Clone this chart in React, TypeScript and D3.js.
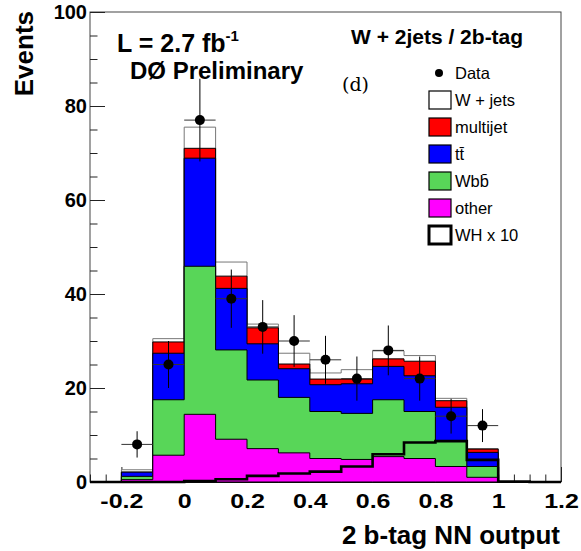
import React, { useRef, useEffect } from "react";
import * as d3 from "d3";

// bin lower edges (bin width 0.1)
const binLow = [-0.3, -0.2, -0.1, 0, 0.1, 0.2, 0.3, 0.4, 0.5, 0.6, 0.7, 0.8, 0.9, 1.0, 1.1];
const binWidth = 0.1;

// stacked backgrounds, per bin contributions (bottom to top)
const other = [0, 0.5, 5.7, 14.4, 9.1, 7.1, 6.2, 5.0, 4.8, 5.4, 5.0, 3.3, 1.0, 0, 0];
const wbb = [0, 0.7, 11.8, 31.5, 19.0, 14.6, 11.8, 10.0, 9.8, 12.1, 10.0, 5.4, 2.3, 0, 0];
const ttbar = [0, 0.9, 9.9, 23.0, 13.1, 7.7, 6.1, 5.7, 6.3, 7.1, 7.6, 7.2, 3.0, 0, 0];
const multijet = [0, 0, 2.4, 2.1, 2.6, 3.4, 1.0, 1.2, 1.0, 1.6, 3.1, 1.4, 0.7, 0, 0];
const wjets = [0, 0.5, 0.7, 4.5, 3.0, 0.8, 2.3, 1.3, 2.0, 1.7, 1.2, 0.5, 0.1, 0, 0];

// signal WH x 10
const whx10 = [0, 0, 0, 0.2, 0.6, 1.3, 1.8, 2.2, 3.3, 5.9, 8.4, 8.7, 4.7, 0.1, 0];

// data
const dataCounts = [0, 8, 25, 77, 39, 33, 30, 26, 22, 28, 22, 14, 12, 0, 0];
const dataErr = [0, 2.8, 5.0, 8.8, 6.2, 5.7, 5.5, 5.1, 4.7, 5.3, 4.7, 3.7, 3.5, 0, 0];

const xTicks = [-0.2, 0, 0.2, 0.4, 0.6, 0.8, 1, 1.2];
const yTicks = [0, 20, 40, 60, 80, 100];

const layerKeys = ["other", "wbb", "ttbar", "multijet", "wjets"];
const layerColors: Record<string, string> = {
  other: "#ff00ff",
  wbb: "#58d658",
  ttbar: "#0000ff",
  multijet: "#ff0000",
  wjets: "#ffffff",
};

const legendLabels = ["Data", "W + jets", "multijet", "tt\u0304", "Wbb\u0304", "other", "WH x 10"];
const legendFills = ["", "#ffffff", "#ff0000", "#0000ff", "#58d658", "#ff00ff", "#ffffff"];

const FONT = "'Liberation Sans', Arial, Helvetica, sans-serif";

const App = () => {
  const svgRef = useRef<SVGSVGElement>(null);

  useEffect(() => {
    const svg = d3.select(svgRef.current);
    svg.selectAll("*").remove();

    const left = 90, right = 561, top = 12, bottom = 482;
    const x = d3.scaleLinear().domain([-0.3, 1.2]).range([left, right]);
    const y = d3.scaleLinear().domain([0, 100]).range([bottom, top]);

    // frame
    svg.append("rect")
      .attr("x", left).attr("y", top)
      .attr("width", right - left).attr("height", bottom - top)
      .attr("fill", "none").attr("stroke", "#444").attr("stroke-width", 1);

    // y axis (ticks inward)
    const gyMinor = svg.append("g").attr("transform", `translate(${left},0)`)
      .call(d3.axisLeft(y).tickValues(y.ticks(20)).tickSize(-7.5).tickFormat(() => ""));
    gyMinor.select(".domain").remove();
    const gy = svg.append("g").attr("transform", `translate(${left},0)`)
      .call(d3.axisLeft(y).tickValues(yTicks).tickSize(-15).tickPadding(3).tickFormat((d) => String(d)));
    gy.select(".domain").remove();
    gy.selectAll("text")
      .attr("x", -3)
      .attr("font-family", FONT).attr("font-size", 20).attr("font-weight", "bold").attr("fill", "#000");
    svg.selectAll("g.tick line").attr("stroke", "#222");

    // x axis (ticks inward)
    const gxMinor = svg.append("g").attr("transform", `translate(0,${bottom})`)
      .call(d3.axisBottom(x).tickValues(x.ticks(30)).tickSize(-7.5).tickFormat(() => ""));
    gxMinor.select(".domain").remove();
    const gx = svg.append("g").attr("transform", `translate(0,${bottom})`)
      .call(d3.axisBottom(x).tickValues(xTicks).tickSize(-15).tickFormat((d) => String(d)));
    gx.select(".domain").remove();
    gx.selectAll("text")
      .attr("y", 26).attr("dy", 0)
      .attr("transform", "scale(1.25,1)")
      .attr("font-family", FONT).attr("font-size", 20).attr("font-weight", "bold").attr("fill", "#000");
    svg.selectAll("g.tick line").attr("stroke", "#222");

    // stacked histograms
    const rows = binLow.map((b, i) => ({
      other: other[i], wbb: wbb[i], ttbar: ttbar[i], multijet: multijet[i], wjets: wjets[i],
    }));
    const stacked = d3.stack<any>().keys(layerKeys)(rows);

    const stepArea = d3.area<{ x: number; v: number }>()
      .x((d) => x(d.x))
      .y0(y(0))
      .y1((d) => y(d.v))
      .curve(d3.curveStepAfter);

    const hist = svg.append("g");
    stacked.slice().reverse().forEach((layer) => {
      const pts = layer.map((d, i) => ({ x: binLow[i], v: d[1] }));
      pts.push({ x: binLow[binLow.length - 1] + binWidth, v: layer[layer.length - 1][1] });
      hist.append("path")
        .attr("d", stepArea(pts))
        .attr("fill", layerColors[layer.key])
        .attr("stroke", layer.key === "wjets" ? "#777" : "#000")
        .attr("stroke-width", 1);
    });

    // WH x 10
    const stepLine = d3.line<{ x: number; v: number }>()
      .x((d) => x(d.x))
      .y((d) => y(d.v))
      .curve(d3.curveStepAfter);
    const whPts = whx10.map((v, i) => ({ x: binLow[i], v }));
    whPts.push({ x: binLow[binLow.length - 1] + binWidth, v: whx10[whx10.length - 1] });
    svg.append("path")
      .attr("d", stepLine(whPts))
      .attr("fill", "none").attr("stroke", "#000").attr("stroke-width", 2.6);

    // data points
    const pts = svg.append("g");
    dataCounts.forEach((c, i) => {
      if (c <= 0) return;
      const cx = x(binLow[i] + binWidth / 2);
      const cy = y(c);
      pts.append("line")
        .attr("x1", cx).attr("x2", cx)
        .attr("y1", y(c - dataErr[i])).attr("y2", y(c + dataErr[i]))
        .attr("stroke", "#000").attr("stroke-width", 1);
      pts.append("line")
        .attr("x1", x(binLow[i])).attr("x2", x(binLow[i] + binWidth))
        .attr("y1", cy).attr("y2", cy)
        .attr("stroke", "#333").attr("stroke-width", 1);
      pts.append("circle").attr("cx", cx).attr("cy", cy).attr("r", 5).attr("fill", "#000");
    });

    // legend
    const lg = svg.append("g");
    legendLabels.forEach((lab, i) => {
      const cy = 73 + i * 27;
      if (i === 0) {
        lg.append("circle").attr("cx", 439).attr("cy", cy).attr("r", 4).attr("fill", "#000");
      } else {
        lg.append("rect")
          .attr("x", 429).attr("y", cy - 9).attr("width", 22).attr("height", 18)
          .attr("fill", legendFills[i])
          .attr("stroke", "#000")
          .attr("stroke-width", i === 6 ? 3 : 1.2);
      }
      lg.append("text")
        .attr("x", 455).attr("y", cy + 6)
        .attr("font-family", FONT).attr("font-size", 16.5).attr("fill", "#000")
        .text(lab);
    });

    // annotations
    svg.append("text")
      .attr("x", 351).attr("y", 44)
      .attr("font-family", FONT).attr("font-size", 21).attr("font-weight", "bold")
      .text("W + 2jets / 2b-tag");

    const lum = svg.append("text")
      .attr("x", 117).attr("y", 52)
      .attr("font-family", FONT).attr("font-size", 25).attr("font-weight", "bold");
    lum.append("tspan").text("L = 2.7 fb");
    lum.append("tspan").attr("dy", -11).attr("font-size", 15).text("-1");

    svg.append("text")
      .attr("x", 130).attr("y", 78.5)
      .attr("font-family", FONT).attr("font-size", 24).attr("font-weight", "bold")
      .text("D\u00d8 Preliminary");

    svg.append("text")
      .attr("x", 342).attr("y", 91)
      .attr("font-family", "'DejaVu Serif', serif").attr("font-size", 19)
      .text("(d)");

    // axis titles
    svg.append("text")
      .attr("transform", "translate(33,11) rotate(-90)")
      .attr("text-anchor", "end")
      .attr("font-family", FONT).attr("font-size", 26).attr("font-weight", "bold")
      .text("Events");

    svg.append("text")
      .attr("x", 560).attr("y", 544)
      .attr("text-anchor", "end")
      .attr("font-family", FONT).attr("font-size", 26).attr("font-weight", "bold")
      .text("2 b-tag NN output");
  }, []);

  return (
    <svg
      ref={svgRef}
      width={581}
      height={551}
      style={{ position: "absolute", left: 0, top: 0, background: "#fff" }}
    />
  );
};

export default App;
